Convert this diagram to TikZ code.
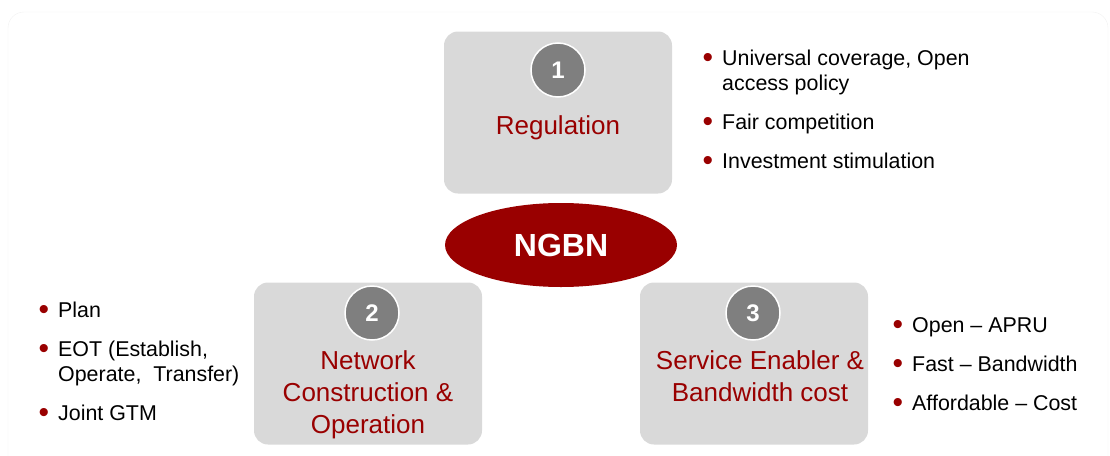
\documentclass[tikz,border=0pt]{standalone}
\usepackage{fontspec}
\setmainfont{Liberation Sans}
\usetikzlibrary{shapes.geometric}
\definecolor{ngbnred}{HTML}{990000}
\definecolor{boxgray}{HTML}{D9D9D9}
\definecolor{numgray}{HTML}{7F7F7F}
\newcommand{\bul}{\llap{\raisebox{-2pt}{\textcolor{ngbnred}{\fontsize{30}{25}\selectfont •}}\hspace{9pt}}}
\begin{document}
\begin{tikzpicture}[x=1pt,y=-1pt,
  pillar/.style={fill=boxgray, rounded corners=14pt, minimum width=228pt, minimum height=162pt, inner sep=0},
  numdot/.style={circle, fill=numgray, draw=white, line width=1.5pt, minimum size=54pt, inner sep=0, text=white, font=\fontsize{24}{24}\selectfont\bfseries},
  pillartext/.style={text=ngbnred, align=center, inner sep=0, font=\fontsize{26}{32}\selectfont},
  items/.style={anchor=north west, align=left, inner sep=0, font=\fontsize{21.4}{25}\selectfont}]
\useasboundingbox (0,0) rectangle (1110,455);
\draw[black!6, rounded corners=16pt] (8,470) |- (1108,12) -- (1108,470);

\node[pillar] (reg) at (558,112.5) {};
\node[pillar] (net) at (368,363.5) {};
\node[pillar] (srv) at (754,363.5) {};

\node[numdot] (n1) at (558,70) {1};
\node[numdot] (n2) at (372,313) {2};
\node[numdot] (n3) at (753,313) {3};

\node[pillartext] (regt) at (558,128) {Regulation};
\node[pillartext] (nett) at (368,395) {Network\\Construction \&\\Operation};
\node[pillartext] (srvt) at (760,376) {Service Enabler \&\\Bandwidth cost};

\node[ellipse, fill=ngbnred, minimum width=232pt, minimum height=84pt, inner sep=0, text=white, font=\fontsize{32}{32}\selectfont\bfseries] (ngbn) at (561,245) {NGBN};

\node[items] (regl) at (722,47.5) {\strut\bul Universal coverage, Open\\access policy\\[14pt]\bul Fair competition\\[14pt]\bul Investment stimulation};
\node[items] (netl) at (58,299.5) {\strut\bul Plan\\[14pt]\bul EOT (Establish,\\Operate,\ \ Transfer)\\[14pt]\bul Joint GTM};
\node[items] (srvl) at (912,314.5) {\strut\bul Open -- APRU\\[14pt]\bul Fast -- Bandwidth\\[14pt]\bul Affordable -- Cost};
\end{tikzpicture}
\end{document}
